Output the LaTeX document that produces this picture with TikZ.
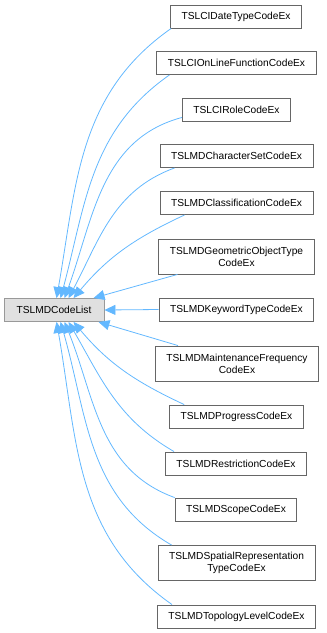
\documentclass[tikz,border=0pt]{standalone}
\usepackage{fontspec}
\setmainfont{Liberation Sans}
\usetikzlibrary{arrows.meta}

\definecolor{edgeblue}{HTML}{63B8FF}
\definecolor{boxgray}{HTML}{666666}
\definecolor{basegray}{HTML}{999999}
\definecolor{basefill}{HTML}{E0E0E0}

\tikzset{
  classbox/.style={draw=boxgray, line width=0.9pt, fill=white, minimum height=23pt,
    inner xsep=11pt, inner ysep=2pt, align=center,
    font=\fontsize{10.2}{12}\selectfont},
  basebox/.style={classbox, draw=basegray, fill=basefill, minimum width=100pt},
  inherit/.style={draw=edgeblue, line width=0.8pt,
    -{Triangle[length=11pt, width=10pt]}},
}

\begin{document}
\begin{tikzpicture}[x=1pt, y=1pt]
    \useasboundingbox (0,0) rectangle (327,-633);

    % The base class
    \node[basebox] (base) at (54,-310) {TSLMDCodeList};

    % Derived classes, top to bottom
    \node[classbox] (datetype) at (236,-16.5) {TSLCIDateTypeCodeEx};
    \node[classbox] (online) at (236.5,-63) {TSLCIOnLineFunctionCodeEx};
    \node[classbox] (role) at (236.5,-109.5) {TSLCIRoleCodeEx};
    \node[classbox] (charset) at (236.5,-156) {TSLMDCharacterSetCodeEx};
    \node[classbox] (classif) at (236.5,-203) {TSLMDClassificationCodeEx};
    \node[classbox, minimum height=35pt] (geomobj) at (236.5,-256.5) {TSLMDGeometricObjectType\\CodeEx};
    \node[classbox] (keyword) at (236.5,-309.5) {TSLMDKeywordTypeCodeEx};
    \node[classbox, minimum height=35pt] (maintfreq) at (237,-363.5) {TSLMDMaintenanceFrequency\\CodeEx};
    \node[classbox] (progress) at (236.5,-416.5) {TSLMDProgressCodeEx};
    \node[classbox] (restrict) at (236,-463.5) {TSLMDRestrictionCodeEx};
    \node[classbox] (scope) at (236,-509.5) {TSLMDScopeCodeEx};
    \node[classbox, minimum height=35pt] (spatial) at (236.5,-563) {TSLMDSpatialRepresentation\\TypeCodeEx};
    \node[classbox] (topology) at (236.5,-616.5) {TSLMDTopologyLevelCodeEx};

    % Inheritance edges into the top of the base box
    \draw[inherit] ([xshift=1pt]datetype.south west) to[out=215, in=80] ([xshift=53pt]base.north west);
    \draw[inherit] ([xshift=13pt]online.south west) to[out=215, in=75] ([xshift=57pt]base.north west);
    \draw[inherit] ([yshift=4pt]role.south west) to[out=195, in=70] ([xshift=61pt]base.north west);
    \draw[inherit] ([xshift=15pt]charset.south west) to[out=200, in=62] ([xshift=65pt]base.north west);
    \draw[inherit] ([xshift=25pt]classif.south west) to[out=205, in=50] ([xshift=70pt]base.north west);
    \draw[inherit] ([xshift=19pt]geomobj.south west) -- ([xshift=90pt]base.north west);

    % Straight across
    \draw[inherit] (keyword.west) -- (base.east);

    % Inheritance edges into the bottom of the base box
    \draw[inherit] ([xshift=23pt]maintfreq.north west) -- ([xshift=-6pt]base.south east);
    \draw[inherit] ([xshift=15pt]progress.north west) to[out=155, in=-50] ([xshift=70pt]base.south west);
    \draw[inherit] ([xshift=9pt]restrict.north west) to[out=150, in=-60] ([xshift=65pt]base.south west);
    \draw[inherit] (scope.north west) to[out=160, in=-68] ([xshift=61pt]base.south west);
    \draw[inherit] ([xshift=14pt]spatial.north west) to[out=150, in=-74] ([xshift=57pt]base.south west);
    \draw[inherit] ([xshift=15pt]topology.north west) to[out=145, in=-80] ([xshift=53pt]base.south west);
\end{tikzpicture}
\end{document}
